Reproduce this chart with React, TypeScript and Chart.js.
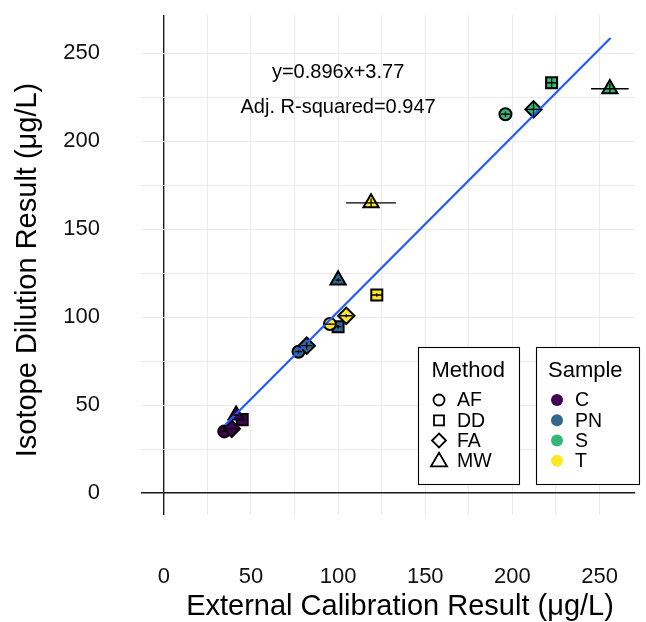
import React, { useEffect, useRef } from 'react';
import { Chart, registerables } from 'chart.js';

Chart.register(...registerables);

// ---- data ----
const methods = ['AF', 'DD', 'FA', 'MW'];
const samples = ['C', 'PN', 'S', 'T'];
const sampleColors = ['#440154', '#31688E', '#35B779', '#FDE725'];

// External calibration result (x), per sample, methods in order AF, DD, FA, MW
const externalC = [34.7, 45.0, 39.0, 41.5];
const externalPN = [77.3, 100.0, 82.0, 100.0];
const externalS = [196.0, 222.5, 212.1, 255.9];
const externalT = [95.3, 122.2, 104.7, 118.9];

// Isotope dilution result (y)
const isotopeC = [35.0, 41.7, 36.5, 44.2];
const isotopePN = [80.3, 94.5, 83.7, 121.0];
const isotopeS = [215.2, 233.1, 218.0, 229.7];
const isotopeT = [96.0, 112.5, 100.7, 164.8];

// error half-widths
const xErrC = [1.5, 1.5, 3.0, 1.5];
const xErrPN = [2.0, 2.0, 3.0, 1.5];
const xErrS = [2.5, 3.0, 4.5, 10.8];
const xErrT = [3.0, 3.0, 3.5, 14.3];
const yErrC = [0.5, 0.5, 0.5, 0.5];
const yErrPN = [1.0, 1.0, 2.0, 1.0];
const yErrS = [1.5, 3.0, 4.5, 3.0];
const yErrT = [0.5, 1.0, 1.0, 2.5];

// fitted line (as drawn)
const fitX = [35.2, 256.3];
const fitY = [38.6, 258.5];

const tickValues = [0, 25, 50, 75, 100, 125, 150, 175, 200, 225, 250];
const labeledTicks = [0, 50, 100, 150, 200, 250];

const equationText = 'y=0.896x+3.77';
const r2Text = 'Adj. R-squared=0.947';
const annotX = [100, 100];
const annotY = [239.2, 219.3];

const xTitle = 'External Calibration Result (\u03bcg/L)';
const yTitle = 'Isotope Dilution Result (\u03bcg/L)';
const methodTitle = 'Method';
const sampleTitle = 'Sample';

const externalAll = [externalC, externalPN, externalS, externalT];
const isotopeAll = [isotopeC, isotopePN, isotopeS, isotopeT];
const xErrAll = [xErrC, xErrPN, xErrS, xErrT];
const yErrAll = [yErrC, yErrPN, yErrS, yErrT];

const FONT = '"Liberation Sans", Arial, Helvetica, sans-serif';
const pointStyles = ['circle', 'rect', 'rectRot', 'triangle'];
const pointRadii = [6, 7.8, 8.2, 8.8];

function drawShape(ctx: CanvasRenderingContext2D, shape: string, x: number, y: number) {
  ctx.beginPath();
  if (shape === 'AF') {
    ctx.arc(x, y, 5.5, 0, Math.PI * 2);
  } else if (shape === 'DD') {
    ctx.rect(x - 5, y - 5, 10, 10);
  } else if (shape === 'FA') {
    ctx.moveTo(x, y - 7);
    ctx.lineTo(x + 7, y);
    ctx.lineTo(x, y + 7);
    ctx.lineTo(x - 7, y);
    ctx.closePath();
  } else {
    ctx.moveTo(x, y - 8);
    ctx.lineTo(x + 8, y + 5.5);
    ctx.lineTo(x - 8, y + 5.5);
    ctx.closePath();
  }
  ctx.stroke();
}

const overlayPlugin = {
  id: 'overlay',
  afterDatasetsDraw(chart: any) {
    const ctx: CanvasRenderingContext2D = chart.ctx;
    const xs = chart.scales.x;
    const ys = chart.scales.y;
    ctx.save();
    // error bars
    ctx.strokeStyle = '#000';
    ctx.lineWidth = 1.3;
    for (let s = 0; s < samples.length; s++) {
      for (let m = 0; m < methods.length; m++) {
        const xv = externalAll[s][m];
        const yv = isotopeAll[s][m];
        const px = xs.getPixelForValue(xv);
        const py = ys.getPixelForValue(yv);
        ctx.beginPath();
        ctx.moveTo(xs.getPixelForValue(xv - xErrAll[s][m]), py);
        ctx.lineTo(xs.getPixelForValue(xv + xErrAll[s][m]), py);
        ctx.moveTo(px, ys.getPixelForValue(yv - yErrAll[s][m]));
        ctx.lineTo(px, ys.getPixelForValue(yv + yErrAll[s][m]));
        ctx.stroke();
      }
    }
    // annotation
    ctx.fillStyle = '#000';
    ctx.font = `20px ${FONT}`;
    ctx.textAlign = 'center';
    ctx.textBaseline = 'middle';
    ctx.fillText(equationText, xs.getPixelForValue(annotX[0]), ys.getPixelForValue(annotY[0]));
    ctx.fillText(r2Text, xs.getPixelForValue(annotX[1]), ys.getPixelForValue(annotY[1]));
    ctx.restore();
  },
  afterDraw(chart: any) {
    const ctx: CanvasRenderingContext2D = chart.ctx;
    ctx.save();
    ctx.fillStyle = '#000';
    // axis titles
    ctx.font = `29px ${FONT}`;
    ctx.textAlign = 'center';
    ctx.textBaseline = 'alphabetic';
    ctx.fillText(xTitle, 400, 615);
    ctx.save();
    ctx.translate(36, 270);
    ctx.rotate(-Math.PI / 2);
    ctx.fillText(yTitle, 0, 0);
    ctx.restore();

    // legend boxes
    const boxTop = 347;
    const boxBottom = 484;
    const boxes = [
      { left: 418, right: 519 },
      { left: 536, right: 639 },
    ];
    ctx.lineWidth = 1.1;
    ctx.strokeStyle = '#000';
    boxes.forEach((b) => {
      ctx.fillStyle = '#fff';
      ctx.fillRect(b.left, boxTop, b.right - b.left, boxBottom - boxTop);
      ctx.strokeRect(b.left + 0.5, boxTop + 0.5, b.right - b.left, boxBottom - boxTop);
    });
    ctx.fillStyle = '#000';
    ctx.textAlign = 'left';
    ctx.font = `22px ${FONT}`;
    ctx.fillText(methodTitle, 431.5, 377);
    ctx.fillText(sampleTitle, 548, 377);
    const rowY = [400, 420.3, 440.5, 460.8];
    ctx.font = `19.5px ${FONT}`;
    ctx.lineWidth = 1.8;
    methods.forEach((m, i) => {
      drawShape(ctx, m, 439, rowY[i]);
      ctx.fillStyle = '#000';
      ctx.textBaseline = 'middle';
      ctx.fillText(m, 457, rowY[i] + 1);
    });
    samples.forEach((s, i) => {
      ctx.beginPath();
      ctx.fillStyle = sampleColors[i];
      ctx.arc(557, rowY[i], 6, 0, Math.PI * 2);
      ctx.fill();
      ctx.fillStyle = '#000';
      ctx.fillText(s, 575, rowY[i] + 1);
    });
    ctx.restore();
  },
};

function zeroPadding(scale: any) {
  scale.paddingTop = 0;
  scale.paddingBottom = 0;
  scale.paddingLeft = 0;
  scale.paddingRight = 0;
}

export default function App() {
  const canvasRef = useRef<HTMLCanvasElement | null>(null);

  useEffect(() => {
    if (!canvasRef.current) return;
    const datasets: any[] = [
      {
        type: 'line',
        label: 'fit',
        data: fitX.map((x, i) => ({ x, y: fitY[i] })),
        borderColor: '#1F5BFF',
        borderWidth: 2.2,
        pointRadius: 0,
        fill: false,
        order: 0,
      },
    ];
    samples.forEach((s, si) => {
      datasets.push({
        type: 'scatter',
        label: s,
        data: externalAll[si].map((x, i) => ({ x, y: isotopeAll[si][i] })),
        backgroundColor: sampleColors[si],
        borderColor: '#000',
        borderWidth: 2,
        pointStyle: pointStyles,
        pointRadius: pointRadii,
        pointHoverRadius: pointRadii,
        order: [4, 3, 2, 1][si],
      });
    });

    const gridColor = (c: any) => (c.tick && c.tick.value === 0 ? '#1a1a1a' : '#EBEBEB');
    const gridWidth = (c: any) => (c.tick && c.tick.value === 0 ? 1.4 : 1);
    const tickCb = (v: any) => (labeledTicks.includes(Number(v)) ? String(v) : '');

    const chart = new Chart(canvasRef.current, {
      type: 'scatter',
      data: { datasets },
      options: {
        animation: false,
        responsive: false,
        maintainAspectRatio: false,
        events: [],
        layout: { padding: { left: 0, top: 15, right: 6, bottom: 0 } },
        plugins: {
          legend: { display: false },
          tooltip: { enabled: false },
          title: { display: false },
        },
        scales: {
          x: {
            type: 'linear',
            min: -13.07,
            max: 270.45,
            afterBuildTicks: (scale: any) => {
              scale.ticks = tickValues.map((v) => ({ value: v }));
            },
            afterFit: (scale: any) => {
              scale.height = 107;
              zeroPadding(scale);
            },
            ticks: {
              callback: tickCb,
              autoSkip: false,
              maxRotation: 0,
              padding: 49,
              color: '#111',
              font: { family: FONT, size: 22 },
            },
            grid: { color: gridColor, lineWidth: gridWidth, drawTicks: false },
            border: { display: false },
          },
          y: {
            type: 'linear',
            min: -12.5,
            max: 271.6,
            afterBuildTicks: (scale: any) => {
              scale.ticks = tickValues.map((v) => ({ value: v }));
            },
            afterFit: (scale: any) => {
              scale.width = 141;
              zeroPadding(scale);
            },
            ticks: {
              callback: tickCb,
              autoSkip: false,
              padding: 41,
              color: '#111',
              font: { family: FONT, size: 22 },
            },
            grid: { color: gridColor, lineWidth: gridWidth, drawTicks: false },
            border: { display: false },
          },
        },
      },
      plugins: [overlayPlugin],
    } as any);

    return () => {
      chart.destroy();
    };
  }, []);

  return (
    <div style={{ position: 'absolute', left: 0, top: 0, width: 646, height: 622, background: '#fff' }}>
      <canvas ref={canvasRef} width={646} height={622} style={{ width: 646, height: 622, display: 'block' }} />
    </div>
  );
}
